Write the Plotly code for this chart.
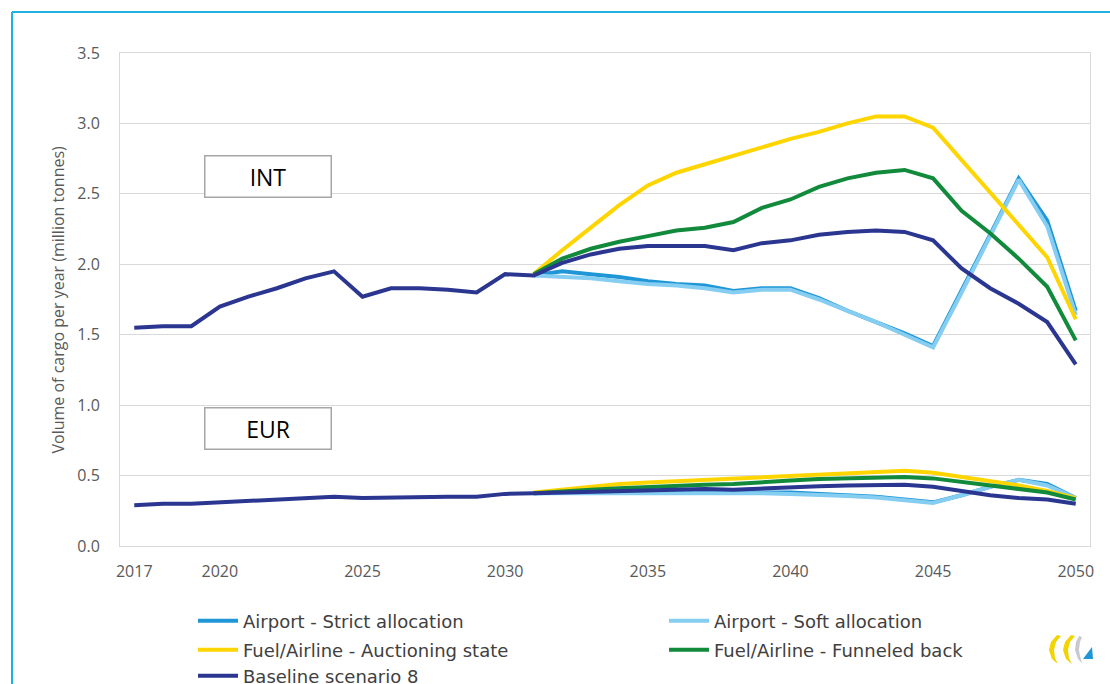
import plotly.graph_objects as go

# ---------------- data ----------------
years_all = list(range(2017, 2051))
years_scen = list(range(2031, 2051))

int_baseline = [1.55, 1.56, 1.56, 1.70, 1.77, 1.83, 1.90, 1.95, 1.77, 1.83, 1.83, 1.82, 1.80, 1.93,
                1.92, 2.01, 2.07, 2.11, 2.13, 2.13, 2.13, 2.10, 2.15, 2.17, 2.21, 2.23, 2.24, 2.23,
                2.17, 1.97, 1.83, 1.72, 1.59, 1.29]
int_strict = [1.92, 1.95, 1.93, 1.91, 1.88, 1.86, 1.85, 1.81, 1.83, 1.83, 1.76, 1.67, 1.59, 1.51,
              1.42, 1.81, 2.21, 2.61, 2.31, 1.67]
int_soft = [1.92, 1.91, 1.90, 1.88, 1.86, 1.85, 1.83, 1.80, 1.82, 1.82, 1.75, 1.67, 1.59, 1.50,
            1.41, 1.80, 2.20, 2.60, 2.27, 1.64]
int_auction = [1.93, 2.10, 2.26, 2.42, 2.56, 2.65, 2.71, 2.77, 2.83, 2.89, 2.94, 3.00, 3.05, 3.05,
               2.97, 2.74, 2.52, 2.29, 2.05, 1.61]
int_funnel = [1.93, 2.04, 2.11, 2.16, 2.20, 2.24, 2.26, 2.30, 2.40, 2.46, 2.55, 2.61, 2.65, 2.67,
              2.61, 2.38, 2.22, 2.04, 1.84, 1.46]

eur_baseline = [0.29, 0.30, 0.30, 0.31, 0.32, 0.33, 0.34, 0.35, 0.34, 0.345, 0.35, 0.35, 0.35, 0.37,
                0.375, 0.38, 0.39, 0.395, 0.40, 0.40, 0.405, 0.40, 0.41, 0.42, 0.425, 0.43, 0.435,
                0.435, 0.42, 0.39, 0.36, 0.34, 0.33, 0.30]
eur_strict = [0.375, 0.38, 0.38, 0.38, 0.385, 0.385, 0.385, 0.38, 0.38, 0.38, 0.37, 0.36, 0.35, 0.33,
              0.31, 0.36, 0.42, 0.47, 0.44, 0.34]
eur_soft = [0.375, 0.375, 0.375, 0.375, 0.38, 0.38, 0.38, 0.375, 0.375, 0.37, 0.365, 0.355, 0.345,
            0.325, 0.305, 0.36, 0.42, 0.47, 0.43, 0.34]
eur_auction = [0.38, 0.40, 0.42, 0.44, 0.45, 0.46, 0.47, 0.48, 0.49, 0.50, 0.51, 0.52, 0.53, 0.535,
               0.52, 0.49, 0.46, 0.43, 0.39, 0.34]
eur_funnel = [0.375, 0.39, 0.40, 0.41, 0.42, 0.43, 0.435, 0.44, 0.455, 0.465, 0.475, 0.48, 0.49, 0.49,
              0.48, 0.455, 0.43, 0.41, 0.38, 0.33]

x_ticks = [2017, 2020, 2025, 2030, 2035, 2040, 2045, 2050]
y_ticks = [0.0, 0.5, 1.0, 1.5, 2.0, 2.5, 3.0, 3.5]

series_names = ["Airport - Strict allocation", "Airport - Soft allocation",
                "Fuel/Airline - Auctioning state", "Fuel/Airline - Funneled back",
                "Baseline scenario 8"]
colors = ["#1f96d6", "#86cdf2", "#ffd500", "#128a3c", "#2a3690"]
legend_ids = ["legend", "legend", "legend2", "legend2", "legend3"]

# ---------------- layout geometry (pixels) ----------------
W, H = 1110, 684
L, R, T, B = 120, 20, 53, 138
PW, PH = W - L - R, H - T - B


def px(x):
    return (x - L) / PW


def py(y):
    return (H - B - y) / PH


fig = go.Figure()

int_sets = [(years_scen, int_strict), (years_scen, int_soft), (years_scen, int_auction),
            (years_scen, int_funnel), (years_all, int_baseline)]
eur_sets = [(years_scen, eur_strict), (years_scen, eur_soft), (years_scen, eur_auction),
            (years_scen, eur_funnel), (years_all, eur_baseline)]

for i, (xs, ys) in enumerate(int_sets):
    fig.add_trace(go.Scatter(x=xs, y=ys, mode="lines", name=series_names[i],
                             line=dict(color=colors[i], width=4), legendgroup=series_names[i],
                             legend=legend_ids[i], showlegend=True))
for i, (xs, ys) in enumerate(eur_sets):
    fig.add_trace(go.Scatter(x=xs, y=ys, mode="lines", name=series_names[i],
                             line=dict(color=colors[i], width=4), legendgroup=series_names[i],
                             legend=legend_ids[i], showlegend=False))

tick_font = dict(family="Open Sans", size=16, color="#595959")

fig.update_xaxes(range=[2016.5, 2050.5], tickvals=x_ticks, ticktext=[str(t) for t in x_ticks],
                 showgrid=False, showline=True, linecolor="#d9d9d9", linewidth=1, mirror=True,
                 zeroline=False, tickfont=tick_font, ticks="", ticklabelstandoff=11)
fig.update_yaxes(range=[0, 3.5], tickvals=y_ticks, ticktext=[f"{v:.1f}" for v in y_ticks],
                 showgrid=True, gridcolor="#d9d9d9", gridwidth=1, showline=True,
                 linecolor="#d9d9d9", linewidth=1, mirror=True, zeroline=False,
                 tickfont=tick_font, ticks="", ticklabelstandoff=16)

leg_font = dict(family="DejaVu Sans", size=18, color="#404040")
common_leg = dict(orientation="h", xanchor="left", yanchor="middle", font=leg_font,
                  bgcolor="rgba(0,0,0,0)", entrywidth=416, entrywidthmode="pixels",
                  itemwidth=40, traceorder="normal")

shapes = [
    # outer frame (top and left edges)
    dict(type="line", xref="paper", yref="paper", x0=px(12), x1=px(W + 5), y0=py(12), y1=py(12),
         line=dict(color="#22b0e0", width=2)),
    dict(type="line", xref="paper", yref="paper", x0=px(12), x1=px(12), y0=py(12), y1=py(H + 5),
         line=dict(color="#22b0e0", width=2)),
]


def path_px(pts):
    s = "M" + " L".join(f"{px(a):.5f},{py(b):.5f}" for a, b in pts) + " Z"
    return s


# small logo bottom-right
logo_yellow1 = [(1057, 635), (1051, 642), (1049, 650), (1052, 659), (1058, 664), (1055, 658),
                (1054, 650), (1056, 642), (1061, 636)]
logo_yellow2 = [(1071, 635), (1065, 642), (1063, 650), (1066, 659), (1072, 664), (1069, 658),
                (1068, 650), (1070, 642), (1075, 636)]
logo_gray = [(1079, 636), (1076, 642), (1075, 650), (1078, 659), (1082, 663), (1080, 656),
             (1079, 650), (1080, 642), (1082, 637)]
logo_blue = [(1083, 659), (1093, 659), (1092, 647)]
shapes += [
    dict(type="path", xref="paper", yref="paper", path=path_px(logo_yellow1),
         fillcolor="#f2d400", line=dict(width=0)),
    dict(type="path", xref="paper", yref="paper", path=path_px(logo_yellow2),
         fillcolor="#f2d400", line=dict(width=0)),
    dict(type="path", xref="paper", yref="paper", path=path_px(logo_gray),
         fillcolor="#c8c8d0", line=dict(width=0)),
    dict(type="path", xref="paper", yref="paper", path=path_px(logo_blue),
         fillcolor="#1f96d6", line=dict(width=0)),
]

box_font = dict(family="Open Sans", size=23, color="#000000")
annotations = [
    dict(text="INT", xref="paper", yref="paper", x=px(267.5), y=py(176), showarrow=False,
         font=box_font, bordercolor="#a6a6a6", borderwidth=1.5, borderpad=0, bgcolor="white",
         width=125, height=40, xanchor="center", yanchor="middle"),
    dict(text="EUR", xref="paper", yref="paper", x=px(267.5), y=py(428), showarrow=False,
         font=box_font, bordercolor="#a6a6a6", borderwidth=1.5, borderpad=0, bgcolor="white",
         width=125, height=40, xanchor="center", yanchor="middle"),
    dict(text="Volume of cargo per year (million tonnes)", xref="paper", yref="paper",
         x=px(57), y=0.5, showarrow=False, textangle=-90, xanchor="center", yanchor="middle",
         font=dict(family="Open Sans", size=16, color="#595959")),
]

fig.update_layout(
    width=W, height=H,
    margin=dict(l=L, r=R, t=T, b=B, autoexpand=False),
    paper_bgcolor="white", plot_bgcolor="white",
    showlegend=True,
    legend=dict(common_leg, x=px(193), y=py(621)),
    legend2=dict(common_leg, x=px(193), y=py(650)),
    legend3=dict(common_leg, x=px(193), y=py(676)),
    shapes=shapes,
    annotations=annotations,
)

fig.write_html("out.html", config={"displayModeBar": False},
               post_script="document.body.style.margin='0px';")
